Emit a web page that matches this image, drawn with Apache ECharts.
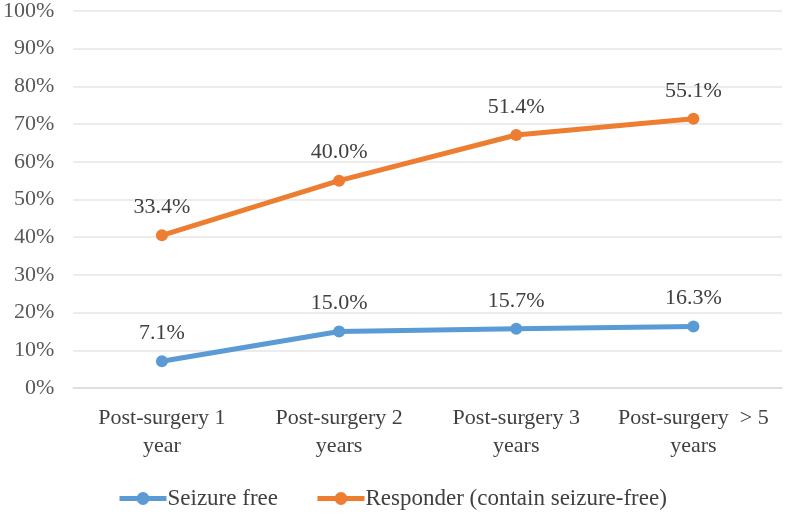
<!DOCTYPE html>
<html>
<head>
<meta charset="utf-8">
<script src="https://cdn.jsdelivr.net/npm/echarts@6/dist/echarts.min.js"></script>
<style>html,body{margin:0;padding:0;background:#fff;}#c{width:786px;height:514px;}</style>
</head>
<body>
<div id="c"></div>
<script>
var categories = ["Post-surgery 1\nyear", "Post-surgery 2\nyears", "Post-surgery 3\nyears", "Post-surgery  > 5\nyears"];
var seizureFree = [7.1, 15.0, 15.7, 16.3];
var responderExtra = [33.4, 40.0, 51.4, 55.1];
var seriesNames = ["Seizure free", "Responder (contain seizure-free)"];

var FONT = "'Liberation Serif', 'Times New Roman', serif";
var chart = echarts.init(document.getElementById('c'), null, {renderer: 'canvas'});
chart.setOption({
  animation: false,
  textStyle: {fontFamily: FONT},
  grid: {left: 71, right: 4, top: 10, bottom: 126, containLabel: false},
  legend: {
    left: 112, top: 482,
    itemWidth: 47, itemHeight: 16, itemGap: 37,
    lineStyle: {width: 5},
    textStyle: {fontFamily: FONT, fontSize: 23, color: '#404040', padding: [0,0,0,-4]},
    data: seriesNames
  },
  xAxis: {
    type: 'category',
    data: categories,
    boundaryGap: true,
    axisLine: {lineStyle: {color: '#d9d9d9', width: 1.5}},
    axisTick: {show: false},
    axisLabel: {fontFamily: FONT, fontSize: 22, color: '#404040', lineHeight: 28, margin: 16, interval: 0}
  },
  yAxis: {
    type: 'value',
    min: 0, max: 100, interval: 10,
    axisLine: {show: false},
    axisTick: {show: false},
    splitLine: {lineStyle: {color: '#e6e6e6', width: 1.5}},
    axisLabel: {fontFamily: FONT, fontSize: 22, color: '#595959', margin: 19, formatter: '{value}%'}
  },
  series: [
    {
      name: seriesNames[0], type: 'line', stack: 'total',
      data: seizureFree,
      symbol: 'circle', symbolSize: 12,
      itemStyle: {color: '#5B9BD5'},
      lineStyle: {width: 5, color: '#5B9BD5'},
      label: {show: true, position: 'top', distance: 11, fontFamily: FONT, fontSize: 22, color: '#404040',
        formatter: function(p){ return p.value.toFixed(1) + '%'; }}
    },
    {
      name: seriesNames[1], type: 'line', stack: 'total',
      data: responderExtra,
      symbol: 'circle', symbolSize: 12,
      itemStyle: {color: '#ED7D31'},
      lineStyle: {width: 5, color: '#ED7D31'},
      label: {show: true, position: 'top', distance: 11, fontFamily: FONT, fontSize: 22, color: '#404040',
        formatter: function(p){ return p.value.toFixed(1) + '%'; }}
    }
  ]
});
</script>
</body>
</html>
